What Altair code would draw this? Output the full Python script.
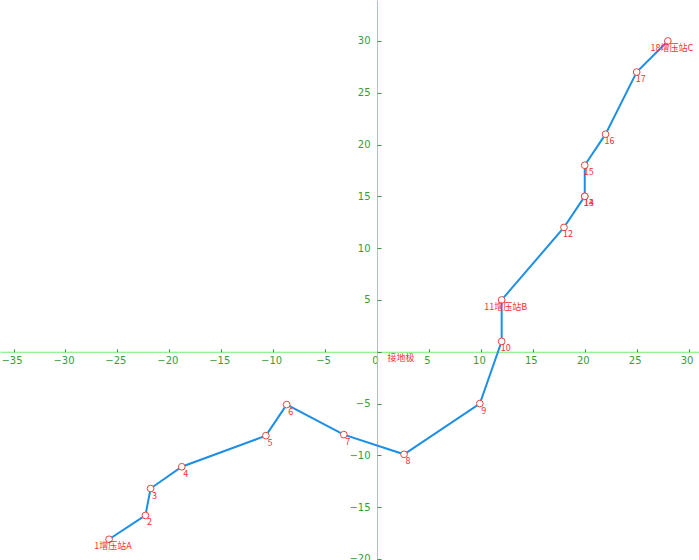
import altair as alt
import pandas as pd

# Station route coordinates (km east / km north of the grounding electrode)
names = ["1增压站A", "2", "3", "4", "5", "6", "7", "8", "9", "10",
         "11增压站B", "12", "13", "14", "15", "16", "17", "18增压站C"]
xs = [-25.8, -22.3, -21.8, -18.8, -10.7, -8.7, -3.2, 2.6, 9.9, 12,
      12, 18, 20, 20, 20, 22, 25, 28]
ys = [-18.1, -15.8, -13.2, -11.1, -8.1, -5.1, -8.0, -9.9, -5.0, 1,
      5, 12, 15, 15, 18, 21, 27, 30]

x_ticks = list(range(-35, 31, 5))
y_ticks = list(range(-20, 31, 5))
y_label_ticks = [v for v in y_ticks if v != 0]

# Grounding electrode annotation
anno_text = ["接地极"]
anno_x = [2.3]
anno_y = [0]

W, H = 699, 560
X_MIN, X_MAX = -36.3, 31.0
Y_MIN, Y_MAX = -20.1, 33.95

# pixel position of the origin, used to run the axes through (0, 0)
x_zero_px = (0 - X_MIN) / (X_MAX - X_MIN) * W
y_zero_px = (Y_MAX - 0) / (Y_MAX - Y_MIN) * H

AXIS_LINE = "#6fef6f"
AXIS_TEXT = "#3a9a3a"
RED = "#ff3030"

df = pd.DataFrame({"name": names, "x": xs, "y": ys, "i": range(len(names))})
anno = pd.DataFrame({"t": anno_text, "x": anno_x, "y": anno_y})

xs_scale = alt.Scale(domain=[X_MIN, X_MAX], nice=False, zero=False)
ys_scale = alt.Scale(domain=[Y_MIN, Y_MAX], nice=False, zero=False)

label_x_axis = alt.Axis(
    orient="bottom", offset=-(H - y_zero_px), values=x_ticks, title=None,
    grid=False, ticks=False, tickSize=0, labelPadding=4, labelOffset=-2,
    domainColor=AXIS_LINE, domainWidth=1, labelColor=AXIS_TEXT,
    labelFont="DejaVu Sans", labelFontSize=10, labelFlush=False,
)
label_y_axis = alt.Axis(
    orient="left", offset=-x_zero_px, values=y_label_ticks, title=None,
    grid=False, ticks=False, tickSize=0, labelPadding=7,
    domainColor=AXIS_LINE, domainWidth=1, labelColor=AXIS_TEXT,
    labelFont="DejaVu Sans", labelFontSize=10, labelFlush=False,
)
tick_x_axis = alt.Axis(
    orient="top", offset=-y_zero_px, values=x_ticks, title=None,
    grid=False, domain=False, labels=False, ticks=True, tickSize=3,
    tickColor=AXIS_TEXT,
)
tick_y_axis = alt.Axis(
    orient="right", offset=-(W - x_zero_px), values=y_ticks, title=None,
    grid=False, domain=False, labels=False, ticks=True, tickSize=4,
    tickColor=AXIS_TEXT,
)

line = alt.Chart(df).mark_line(color="#1e8fe6", strokeWidth=2).encode(
    x=alt.X("x:Q", scale=xs_scale, axis=label_x_axis),
    y=alt.Y("y:Q", scale=ys_scale, axis=label_y_axis),
    order="i:Q",
)

points = alt.Chart(df).mark_point(
    shape="circle", size=45, filled=False, fill="white", fillOpacity=1,
    stroke="#e0483c", strokeWidth=1, opacity=1,
).encode(
    x=alt.X("x:Q", scale=xs_scale, axis=tick_x_axis),
    y=alt.Y("y:Q", scale=ys_scale, axis=tick_y_axis),
)

labels = alt.Chart(df).mark_text(
    align="center", baseline="top", dx=4, dy=3, color=RED,
    font="Noto Sans CJK SC", fontSize=9,
).encode(
    x=alt.X("x:Q", scale=xs_scale, axis=None),
    y=alt.Y("y:Q", scale=ys_scale, axis=None),
    text="name:N",
)

anno_text_layer = alt.Chart(anno).mark_text(
    align="center", baseline="top", dy=2, color=RED,
    font="Noto Sans CJK SC", fontSize=9,
).encode(
    x=alt.X("x:Q", scale=xs_scale, axis=None),
    y=alt.Y("y:Q", scale=ys_scale, axis=None),
    text="t:N",
)

chart = (
    alt.layer(line, points, labels, anno_text_layer)
    .resolve_axis(x="independent", y="independent")
    .properties(width=W, height=H, padding=0, autosize=alt.AutoSizeParams(type="none"),
                background="white")
    .configure_view(strokeWidth=0)
)

chart.save("out.html", embed_options={"renderer": "svg", "actions": False})
